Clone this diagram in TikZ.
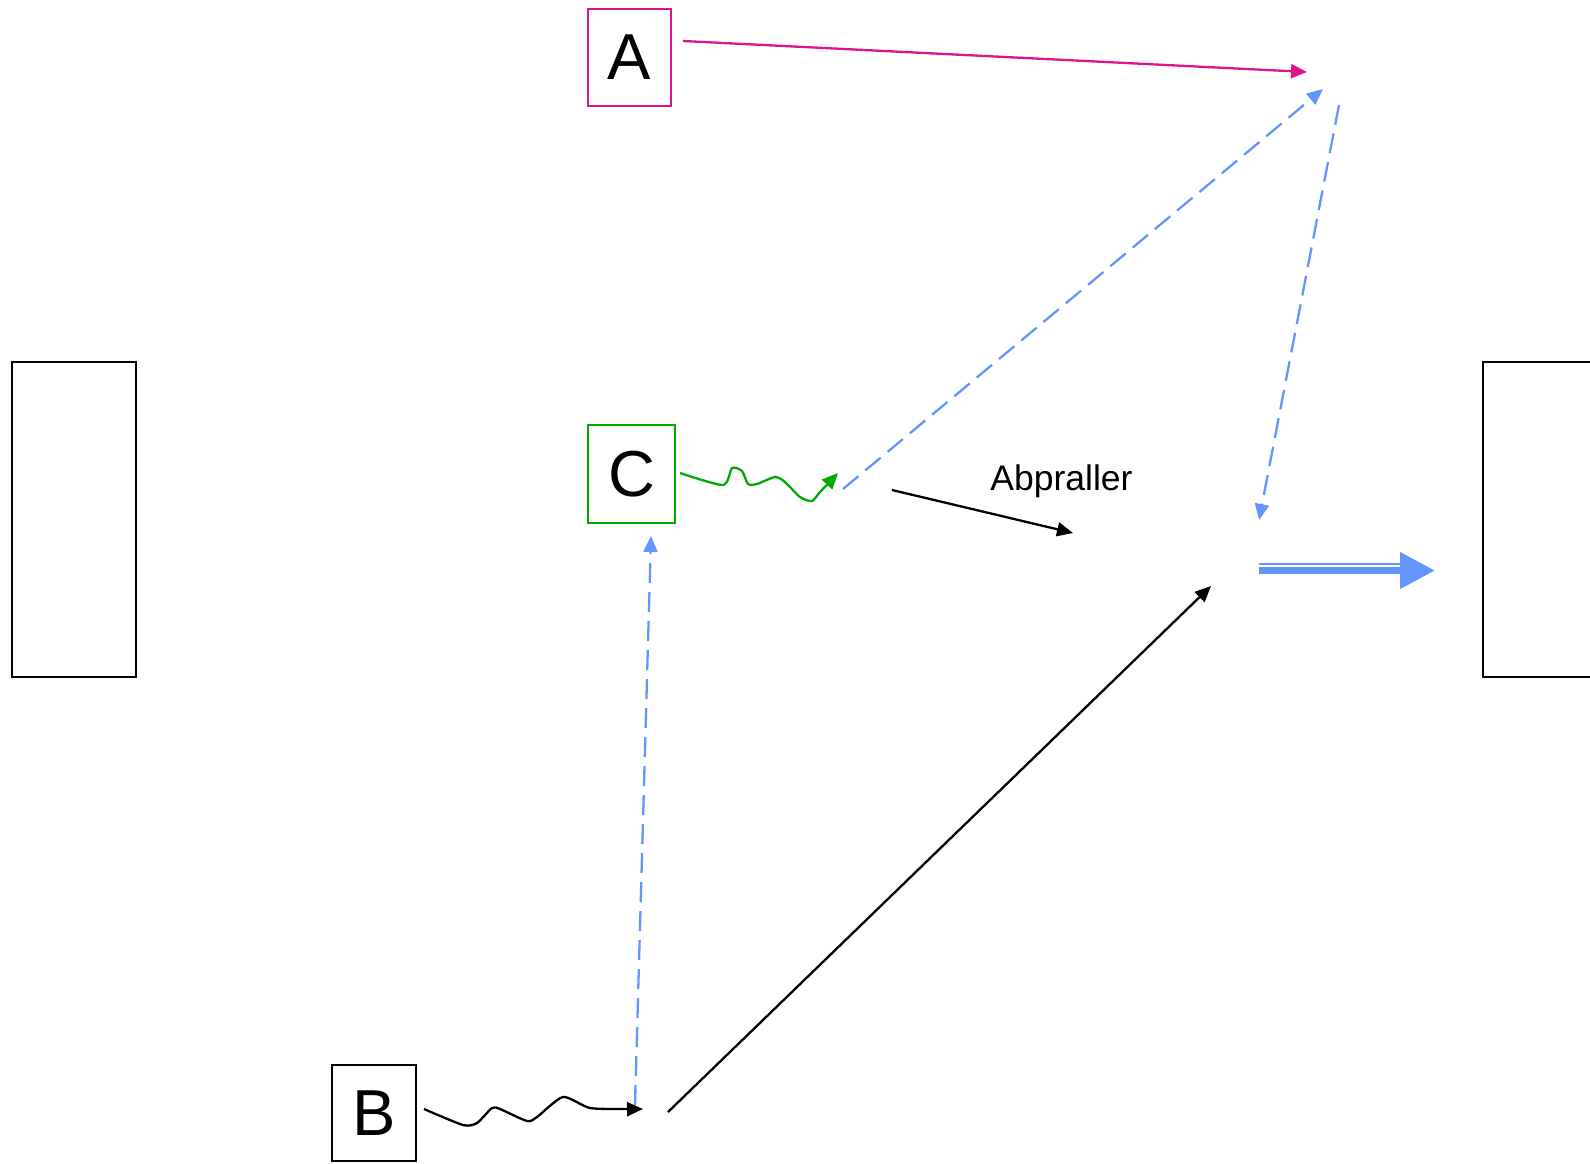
\documentclass[tikz,border=0pt]{standalone}
\usepackage{fontspec}
\setmainfont{Liberation Sans}
\usetikzlibrary{arrows.meta}

\begin{document}
\begin{tikzpicture}[
    x=1pt, y=-1pt,
    letterbox/.style={rectangle, line width=2.5pt, inner sep=0pt,
      font=\fontsize{65}{70}\selectfont},
    wallbox/.style={rectangle, draw=black, line width=2.5pt, inner sep=0pt},
    tip/.style={-{Triangle[length=16pt, width=14pt]}},
    plainarrow/.style={tip, line width=2.3pt},
    bluedash/.style={tip, line width=2.3pt, draw=blueray,
      dash pattern=on 20pt off 9pt},
  ]
  \definecolor{pinkc}{RGB}{224,18,140}
  \definecolor{greenc}{RGB}{0,170,0}
  \definecolor{blueray}{RGB}{100,149,255}

  \useasboundingbox (0,0) rectangle (1590,1163);

  % walls
  \node[wallbox, minimum width=124pt, minimum height=315pt] (wallL) at (74,519.5) {};
  \node[wallbox, minimum width=160pt, minimum height=315pt] (wallR) at (1563,519.5) {};

  % letter boxes
  \foreach \name/\col/\x/\y/\w/\h in {
    A/pinkc/629.5/57.5/83/97,
    C/greenc/631.5/474/87/98,
    B/black/374/1113/84/96%
  }{
    \node[letterbox, draw=\col, minimum width=\w pt, minimum height=\h pt]
      (box\name) at (\x,\y) {\name};
  }

  \coordinate (pinkS) at (683,41);
  \coordinate (pinkE) at (1307,72);
  \coordinate (topS) at (843,489);
  \coordinate (topE) at (1323,89);
  \coordinate (downS) at (1339,105);
  \coordinate (downE) at (1259,520);
  \coordinate (upS) at (635,1105);
  \coordinate (upE) at (651,536);
  \coordinate (bounceS) at (892,490);
  \coordinate (bounceE) at (1073,533);
  \coordinate (longS) at (668,1112);
  \coordinate (longE) at (1211,586);
  \coordinate (dblS) at (1259,570.5);
  \coordinate (dblE) at (1435,570.5);
  \coordinate (dblT) at (1259,564);
  \coordinate (dblU) at (1400,564);

  \draw[plainarrow, draw=pinkc] (pinkS) -- (pinkE);
  \draw[bluedash] (topS) -- (topE);
  \draw[bluedash] (downS) -- (downE);
  \draw[bluedash] (upS) -- (upE);
  \draw[plainarrow] (bounceS) -- (bounceE);
  \node[anchor=base, font=\fontsize{35.5}{40}\selectfont] (bounceL) at (1061.5,490) {Abpraller};
  \draw[plainarrow] (longS) -- (longE);

  % wavy paths
  \draw[plainarrow, draw=greenc, line join=round]
    plot[smooth, tension=0.4] coordinates {(680,473) (723,485) (732,468) (742,471)
      (748,484) (757,484) (775,477) (785,482) (800,497) (812,501) (820,492) (838,473)};
  \draw[plainarrow, line join=round]
    plot[smooth, tension=0.4] coordinates {(424,1109) (463,1125) (477,1123) (492,1108)
      (500,1109) (527,1121) (537,1117) (563,1097) (590,1108) (627,1109) (643,1109)};

  % double arrow
  \draw[-{Triangle[length=35pt, width=35pt]}, line width=7.3pt, draw=blueray]
    (dblS) -- (dblE);
  \draw[line width=2.7pt, draw=blueray] (dblT) -- (dblU);
\end{tikzpicture}
\end{document}
